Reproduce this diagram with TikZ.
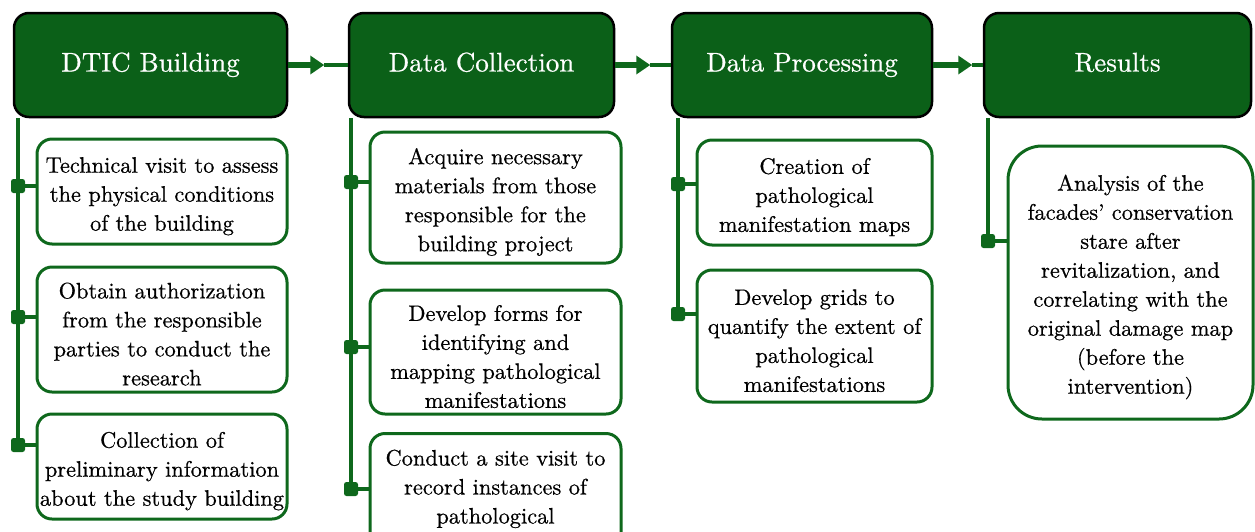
\documentclass[tikz,border=0pt]{standalone}
\usepackage{fontspec}
\setmainfont{lmroman10-regular.otf}[FakeBold=0.6]
\usetikzlibrary{arrows.meta,calc}
\definecolor{headgreen}{RGB}{11,96,24}
\definecolor{linegreen}{RGB}{14,104,28}
% extra room above the first line of a task box
\newcommand\firstline{\rule{0pt}{25pt}}

\begin{document}
\begin{tikzpicture}[x=1pt,y=-1pt,
  head/.style={draw=black, line width=2.5pt, fill=headgreen, rounded corners=15pt,
    text=white, font=\fontsize{27}{32}\selectfont, inner sep=0,
    minimum height=104pt, text height=19pt, text depth=6pt},
  item/.style={draw=linegreen, line width=3pt, fill=white, rounded corners=15pt,
    align=center, font=\fontsize{22.4}{29}\selectfont, inner sep=0},
  trunk/.style={linegreen, line width=4pt},
  link/.style={linegreen, line width=4pt},
  knot/.style={fill=linegreen, rounded corners=2.5pt, minimum size=14pt, inner sep=0},
  flowhead/.style={linegreen, line width=6pt, -{Triangle[length=14pt,width=18pt]}},
  flowtail/.style={linegreen, line width=3.5pt}
]
\useasboundingbox (0,0) rectangle (1255,531);
\clip (0,0) rectangle (1255,531);

% stage headers
\node[head, minimum width=273pt] (h1) at (150.5,65) {DTIC Building};
\node[head, minimum width=265pt] (h2) at (481.5,65) {Data Collection};
\node[head, minimum width=260pt] (h3) at (802,65) {Data Processing};
\node[head, minimum width=267pt] (h4) at (1117.5,65) {Results};

% tasks of each stage
\node[item, minimum width=250pt, minimum height=105pt] (a) at (162,191.5)
  {\firstline Technical visit to assess\\the physical conditions\\of the building};
\node[item, minimum width=250pt, minimum height=125pt] (b) at (162,329.5)
  {\firstline Obtain authorization\\from the responsible\\parties to conduct the\\research};
\node[item, minimum width=250pt, minimum height=105pt] (c) at (162,466.5)
  {\firstline Collection of\\preliminary information\\about the study building};

\node[item, minimum width=251pt, minimum height=131pt] (d) at (495.5,197.5)
  {\firstline Acquire necessary\\materials from those\\responsible for the\\building project};
\node[item, minimum width=251pt, minimum height=124pt] (e) at (495.5,352)
  {\firstline Develop forms for\\identifying and\\mapping pathological\\manifestations};
\node[item, minimum width=251pt, anchor=north, inner ysep=7pt] (f) at (495.5,432)
  {\firstline Conduct a site visit to\\record instances of\\pathological\\\mbox{}};

\node[item, minimum width=235pt, minimum height=105pt] (g) at (814.5,192.5)
  {\firstline Creation of\\pathological\\manifestation maps};
\node[item, minimum width=235pt, minimum height=132pt] (h) at (814.5,336)
  {\firstline Develop grids to\\quantify the extent of\\pathological\\manifestations};

\node[item, rounded corners=34pt, minimum width=245pt, minimum height=273pt] (i) at (1130.5,282.5)
  {\firstline Analysis of the\\facades’ conservation\\stare after\\revitalization, and\\correlating with the\\original damage map\\(before the\\intervention)};

% junction points on the trunks
\coordinate (p1a) at (18,186);  \coordinate (p1b) at (18,317);  \coordinate (p1c) at (18,445);
\coordinate (p2a) at (351,182); \coordinate (p2b) at (351,347); \coordinate (p2c) at (351,489);
\coordinate (p3a) at (678,184); \coordinate (p3b) at (678,314);
\coordinate (p4a) at (988,241);

% trunks
\draw[trunk] (p1a |- h1.south) -- (p1c);
\draw[trunk] (p2a |- h2.south) -- (p2c);
\draw[trunk] (p3a |- h3.south) -- (p3b);
\draw[trunk] (p4a |- h4.south) -- (p4a);

% branches to tasks
\draw[link] (p1a) -- (p1a -| a.west);
\draw[link] (p1b) -- (p1b -| b.west);
\draw[link] (p1c) -- (p1c -| c.west);
\draw[link] (p2a) -- (p2a -| d.west);
\draw[link] (p2b) -- (p2b -| e.west);
\draw[link] (p2c) -- (p2c -| f.west);
\draw[link] (p3a) -- (p3a -| g.west);
\draw[link] (p3b) -- (p3b -| h.west);
\draw[link] (p4a) -- (p4a -| i.west);

\foreach \p in {p1a,p1b,p1c,p2a,p2b,p2c,p3a,p3b,p4a}
  \node[knot] (k-\p) at (\p) {};

% flow between stages
\draw[flowhead] (h1.east) -- ++(36,0) coordinate (m1);
\draw[flowtail] (m1) -- (h2.west);
\draw[flowhead] (h2.east) -- ++(35,0) coordinate (m2);
\draw[flowtail] (m2) -- (h3.west);
\draw[flowhead] (h3.east) -- ++(39,0) coordinate (m3);
\draw[flowtail] (m3) -- (h4.west);
\end{tikzpicture}
\end{document}
